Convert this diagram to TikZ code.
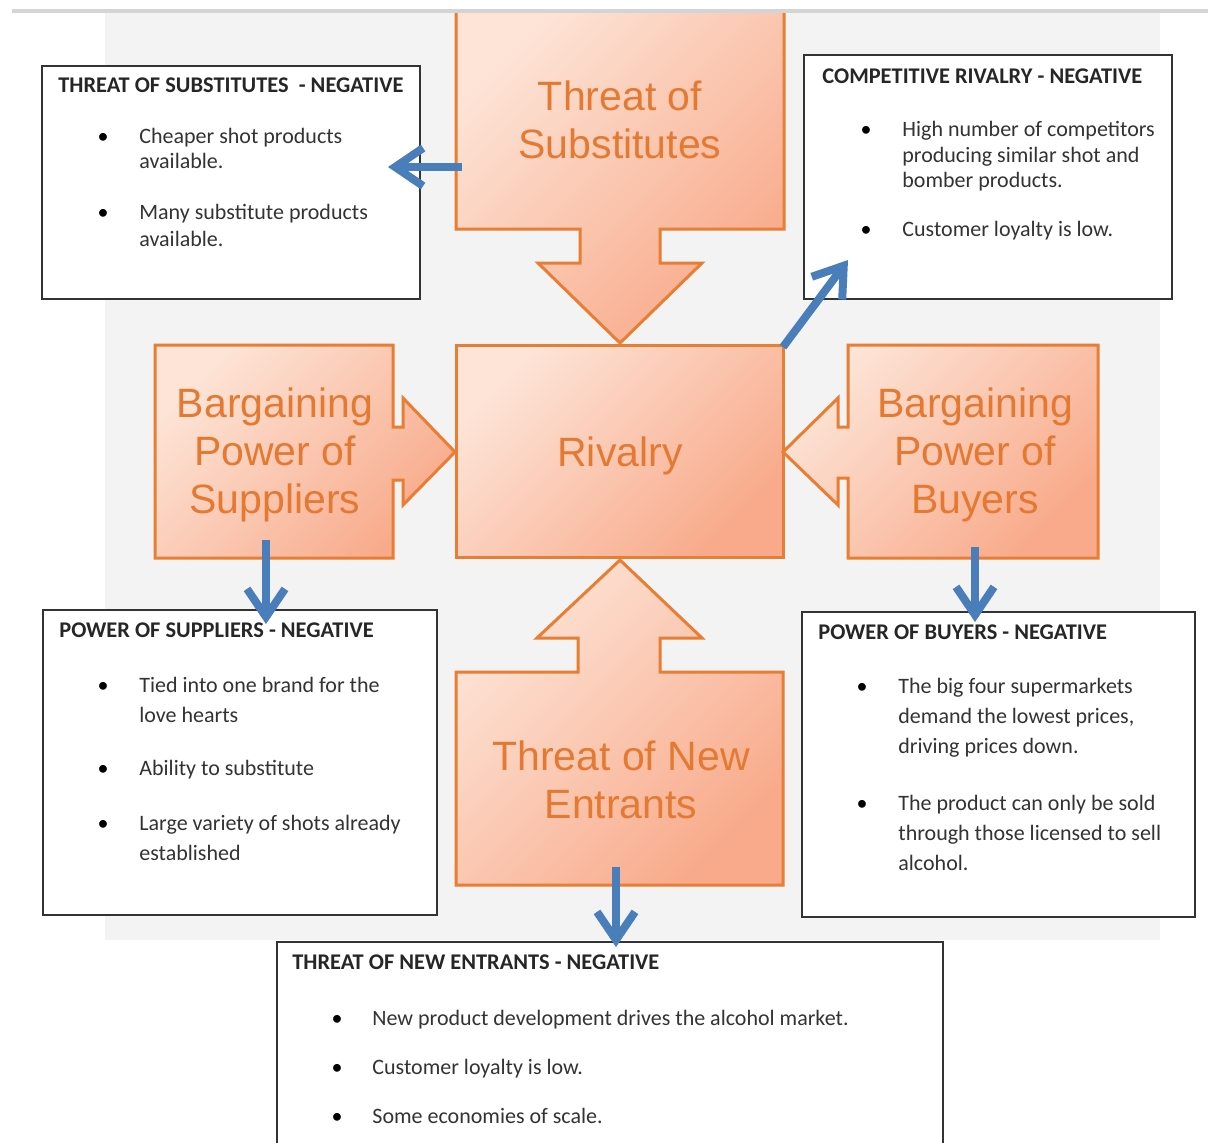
\documentclass[tikz,border=0pt]{standalone}
\usepackage{fontspec}
\setmainfont{Carlito}
\newfontfamily\shapefont{Liberation Sans}
\usetikzlibrary{arrows.meta}

\definecolor{forceline}{RGB}{232,125,52}
\definecolor{forcetext}{RGB}{228,122,50}
\definecolor{forcelight}{RGB}{253,228,215}
\definecolor{forcedark}{RGB}{248,170,138}
\definecolor{arrowblue}{RGB}{74,126,187}
\definecolor{backdrop}{RGB}{243,243,243}

\begin{document}
\begin{tikzpicture}[x=0.5pt, y=-0.5pt,
  force/.style={draw=forceline, line width=1.5pt, line join=miter,
    top color=forcelight, bottom color=forcedark, shading angle=45},
  forcelabel/.style={text=forcetext, align=center, inner sep=0,
    font=\shapefont\fontsize{20.5}{24}\selectfont},
  infobox/.style={draw=black!80, line width=1pt, fill=white},
  boxtitle/.style={anchor=base west, inner sep=0, text=black!85,
    font=\fontsize{11.2}{13}\selectfont\bfseries},
  boxline/.style={anchor=base west, inner sep=0, text=black!80,
    font=\fontsize{11}{13}\selectfont},
  dot/.style={anchor=base, inner sep=0, font=\fontsize{11}{13}\selectfont},
  pointer/.style={draw=arrowblue, line width=4pt,
    -{Straight Barb[length=14pt,width=19pt]}}
]

\useasboundingbox (0,0) rectangle (1208,1142);

% Page background and top rule
\fill[backdrop] (105,13) rectangle (1160,940);

% Five forces (top shape runs under the rule)
\begin{scope}
  \clip (0,13) rectangle (1208,1142);
  \path[force] (456,4) -- (784,4) -- (784,229) -- (660,229) -- (660,263)
    -- (702,263) -- (620,343) -- (538,263) -- (580,263) -- (580,229)
    -- (456,229) -- cycle;
\end{scope}
\fill[black!17] (12,9) rectangle (1208,13);

\path[force] (456,345) rectangle (783,557);

\path[force] (620,560) -- (702,638) -- (660,638) -- (660,672) -- (783,672)
  -- (783,885) -- (456,885) -- (456,672) -- (578,672) -- (578,638)
  -- (537,638) -- cycle;

\path[force] (155,345) -- (393,345) -- (393,427) -- (403,427) -- (403,398)
  -- (455,452) -- (403,505) -- (403,480) -- (393,480) -- (393,558)
  -- (155,558) -- cycle;

\path[force] (848,345) -- (1098,345) -- (1098,558) -- (848,558) -- (848,478)
  -- (838,478) -- (838,505) -- (783,452) -- (838,398) -- (838,427)
  -- (848,427) -- cycle;

\node[forcelabel] (subsLabel) at (620,120) {Threat of\\Substitutes};
\node[forcelabel] (rivalryLabel) at (620,456) {Rivalry};
\node[forcelabel] (suppLabel) at (275,455) {Bargaining\\Power of\\Suppliers};
\node[forcelabel] (buyLabel) at (975,455) {Bargaining\\Power of\\Buyers};
\node[forcelabel] (entrLabel) at (621,780) {Threat of New\\Entrants};

% Threat of substitutes
\draw[infobox] (42,66) rectangle (420,299);
\node[boxtitle] (subsHead) at (58,92) {THREAT OF SUBSTITUTES~ - NEGATIVE};
\node[dot] (subsDotA) at (103,143) {•};
\node[boxline] (subsA1) at (139,143) {Cheaper shot products};
\node[boxline] (subsA2) at (139,168) {available.};
\node[dot] (subsDotB) at (103,219) {•};
\node[boxline] (subsB1) at (139,219) {Many substitute products};
\node[boxline] (subsB2) at (139,246) {available.};

% Competitive rivalry
\draw[infobox] (804,55) rectangle (1172,299);
\node[boxtitle] (rivHead) at (822,83) {COMPETITIVE RIVALRY - NEGATIVE};
\node[dot] (rivDotA) at (866,136) {•};
\node[boxline] (rivA1) at (902,136) {High number of competitors};
\node[boxline] (rivA2) at (902,162) {producing similar shot and};
\node[boxline] (rivA3) at (902,187) {bomber products.};
\node[dot] (rivDotB) at (866,236) {•};
\node[boxline] (rivB1) at (902,236) {Customer loyalty is low.};

% Power of suppliers
\draw[infobox] (43,610) rectangle (437,915);
\node[boxtitle] (suppHead) at (59,637) {POWER OF SUPPLIERS - NEGATIVE};
\node[dot] (suppDotA) at (103,692) {•};
\node[boxline] (suppA1) at (139,692) {Tied into one brand for the};
\node[boxline] (suppA2) at (139,722) {love hearts};
\node[dot] (suppDotB) at (103,775) {•};
\node[boxline] (suppB1) at (139,775) {Ability to substitute};
\node[dot] (suppDotC) at (103,830) {•};
\node[boxline] (suppC1) at (139,830) {Large variety of shots already};
\node[boxline] (suppC2) at (139,860) {established};

% Power of buyers
\draw[infobox] (802,612) rectangle (1195,917);
\node[boxtitle] (buyHead) at (818,639) {POWER OF BUYERS - NEGATIVE};
\node[dot] (buyDotA) at (862,693) {•};
\node[boxline] (buyA1) at (898,693) {The big four supermarkets};
\node[boxline] (buyA2) at (898,723) {demand the lowest prices,};
\node[boxline] (buyA3) at (898,753) {driving prices down.};
\node[dot] (buyDotB) at (862,810) {•};
\node[boxline] (buyB1) at (898,810) {The product can only be sold};
\node[boxline] (buyB2) at (898,840) {through those licensed to sell};
\node[boxline] (buyB3) at (898,870) {alcohol.};

% Threat of new entrants
\draw[infobox] (277,942) rectangle (943,1160);
\node[boxtitle] (entrHead) at (292,969) {THREAT OF NEW ENTRANTS - NEGATIVE};
\node[dot] (entrDotA) at (337,1025) {•};
\node[boxline] (entrA1) at (372,1025) {New product development drives the alcohol market.};
\node[dot] (entrDotB) at (337,1074) {•};
\node[boxline] (entrB1) at (372,1074) {Customer loyalty is low.};
\node[dot] (entrDotC) at (337,1123) {•};
\node[boxline] (entrC1) at (372,1123) {Some economies of scale.};

% Blue pointers from each force to its notes
\coordinate (subsOut) at (462,167);
\coordinate (subsIn) at (388,167);
\coordinate (rivOut) at (783,347);
\coordinate (rivIn) at (848,260);
\coordinate (suppOut) at (266,540);
\coordinate (suppIn) at (266,624);
\coordinate (buyOut) at (975,547);
\coordinate (buyIn) at (975,622);
\coordinate (entrOut) at (616,867);
\coordinate (entrIn) at (616,947);

\draw[pointer] (subsOut) -- (subsIn);
\draw[pointer] (rivOut) -- (rivIn);
\draw[pointer] (suppOut) -- (suppIn);
\draw[pointer] (buyOut) -- (buyIn);
\draw[pointer] (entrOut) -- (entrIn);

\end{tikzpicture}
\end{document}
